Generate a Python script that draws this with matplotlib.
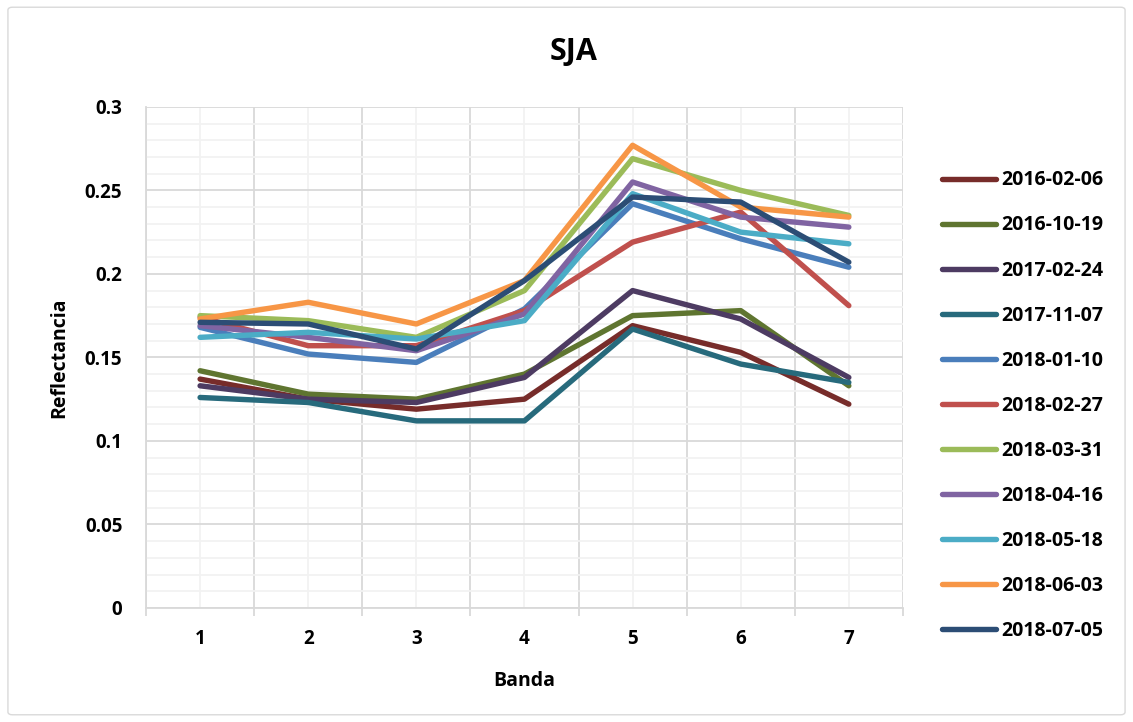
import matplotlib
matplotlib.use("Agg")
import matplotlib.pyplot as plt
from matplotlib.patches import FancyBboxPatch
from matplotlib.ticker import MultipleLocator, FixedLocator, NullFormatter

plt.rcParams['font.family'] = ['Open Sans', 'DejaVu Sans']
plt.rcParams['font.weight'] = 'bold'

bands = [1, 2, 3, 4, 5, 6, 7]

fechas = ['2016-02-06', '2016-10-19', '2017-02-24', '2017-11-07', '2018-01-10',
          '2018-02-27', '2018-03-31', '2018-04-16', '2018-05-18', '2018-06-03',
          '2018-07-05']

r_20160206 = [0.137, 0.125, 0.119, 0.125, 0.169, 0.153, 0.122]
r_20161019 = [0.142, 0.128, 0.125, 0.140, 0.175, 0.178, 0.133]
r_20170224 = [0.133, 0.125, 0.123, 0.138, 0.190, 0.173, 0.138]
r_20171107 = [0.126, 0.123, 0.112, 0.112, 0.167, 0.146, 0.135]
r_20180110 = [0.168, 0.152, 0.147, 0.179, 0.242, 0.221, 0.204]
r_20180227 = [0.174, 0.157, 0.157, 0.178, 0.219, 0.237, 0.181]
r_20180331 = [0.175, 0.172, 0.162, 0.190, 0.269, 0.250, 0.235]
r_20180416 = [0.169, 0.162, 0.154, 0.176, 0.255, 0.234, 0.228]
r_20180518 = [0.162, 0.165, 0.161, 0.172, 0.248, 0.225, 0.218]
r_20180603 = [0.173, 0.183, 0.170, 0.196, 0.277, 0.240, 0.234]
r_20180705 = [0.171, 0.170, 0.155, 0.196, 0.246, 0.243, 0.207]

series = [r_20160206, r_20161019, r_20170224, r_20171107, r_20180110, r_20180227,
          r_20180331, r_20180416, r_20180518, r_20180603, r_20180705]

colors = ['#772C2A', '#5F7530', '#4D3B62', '#276A7C', '#4A7EBB', '#C0504D',
          '#9BBB59', '#8064A2', '#4BACC6', '#F79646', '#2C4D75']

fig = plt.figure(figsize=(11.33, 7.22), dpi=100)
ax = fig.add_axes([0.1289, 0.158, 0.668, 0.694])

# chart border
fig.patches.append(FancyBboxPatch((0.007, 0.01), 0.986, 0.98, boxstyle='round,pad=0,rounding_size=0.004',
                                  transform=fig.transFigure, fill=False, ec='#D9D9D9', lw=1))

for vals, c, lab in zip(series, colors, fechas):
    ax.plot(bands, vals, color=c, lw=3.9, label=lab, solid_capstyle='round',
            solid_joinstyle='round', zorder=3)

ax.set_xlim(0.5, 7.5)
ax.set_ylim(0, 0.3)

ax.xaxis.set_major_locator(FixedLocator([b - 0.5 for b in bands] + [7.5]))
ax.xaxis.set_major_formatter(NullFormatter())
ax.xaxis.set_minor_locator(FixedLocator(bands))
ax.set_xticklabels([str(b) for b in bands], minor=True)
ax.yaxis.set_major_locator(MultipleLocator(0.05))
ax.yaxis.set_minor_locator(MultipleLocator(0.01))
ax.set_yticks([0, 0.05, 0.1, 0.15, 0.2, 0.25, 0.3])
ax.set_yticklabels(['0', '0.05', '0.1', '0.15', '0.2', '0.25', '0.3'])

ax.grid(which='major', color='#D9D9D9', lw=1.3, zorder=0)
ax.grid(which='minor', color='#F2F2F2', lw=1.3, zorder=0)
ax.set_axisbelow(True)

ax.tick_params(axis='x', which='major', length=6, color='#D9D9D9', width=1.3)
ax.tick_params(axis='x', which='minor', length=0, pad=15, labelsize=13.5)
ax.tick_params(axis='y', which='both', length=0, pad=17, labelsize=13.5)
for s in ['top', 'right']:
    ax.spines[s].set_visible(False)
ax.spines['left'].set_color('#D9D9D9')
ax.spines['bottom'].set_color('#D9D9D9')
ax.spines['left'].set_linewidth(1.3)
ax.spines['bottom'].set_linewidth(1.3)

ax.set_xlabel('Banda', fontsize=14, fontweight='bold', labelpad=16)
ax.set_ylabel('Reflectancia', fontsize=14, fontweight='bold', labelpad=11)
fig.text(0.5066, 0.928, 'SJA', ha='center', va='center', fontsize=22, fontweight='bold')

leg = ax.legend(loc='upper left', bbox_to_anchor=(0.8314, 0.764), bbox_transform=fig.transFigure,
                frameon=False, fontsize=14, handlelength=2.8, handletextpad=0.26,
                labelspacing=1.29, borderaxespad=0, borderpad=0)

fig.savefig('out.png', dpi=100)
